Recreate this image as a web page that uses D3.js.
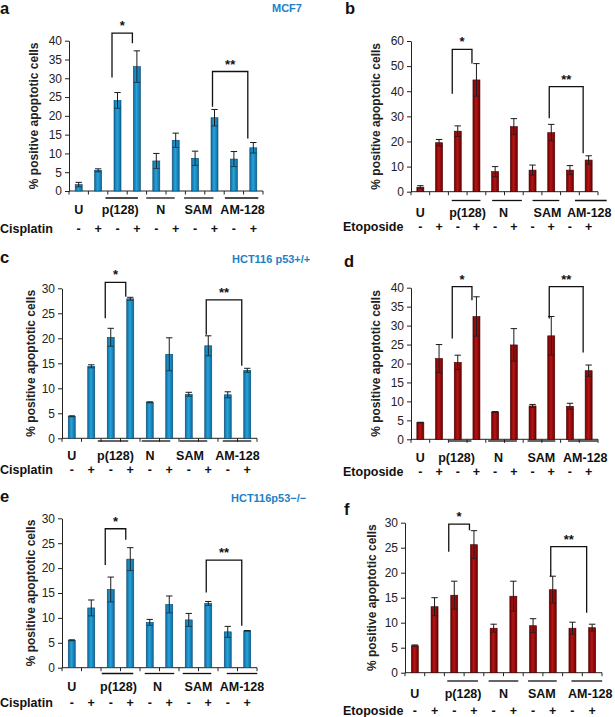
<!DOCTYPE html>
<html><head><meta charset="utf-8">
<script src="https://cdn.jsdelivr.net/npm/d3@7"></script>
<style>body{margin:0;background:#fff}svg{display:block;font-family:"Liberation Sans",Arial,Helvetica,sans-serif}</style>
</head><body><svg id="chart" width="615" height="717"></svg>
<script>
// ---------- data ----------
const groups = ["U", "p(128)", "N", "SAM", "AM-128"];
const treatments = ["-", "+", "-", "+", "-", "+", "-", "+", "-", "+"];
const barGroup = [0, 0, 1, 1, 2, 2, 3, 3, 4, 4];

const valuesA = [1.7, 5.5, 24.1, 33.1, 8.0, 13.5, 8.7, 19.5, 8.5, 11.5];
const errorsA = [0.6, 0.4, 2.1, 4.2, 2.0, 1.9, 1.9, 2.2, 2.0, 1.4];
const valuesB = [1.8, 19.5, 24.1, 44.5, 8.0, 25.9, 8.6, 23.5, 8.6, 12.6];
const errorsB = [0.6, 1.3, 2.1, 6.5, 2.0, 3.2, 2.0, 3.3, 1.8, 1.7];
const valuesC = [4.4, 14.4, 20.2, 27.9, 7.2, 16.8, 8.8, 18.5, 8.7, 13.6];
const errorsC = [0.1, 0.3, 1.8, 0.3, 0.1, 3.3, 0.4, 2.0, 0.6, 0.4];
const valuesD = [4.4, 21.3, 20.3, 32.4, 7.2, 24.9, 8.8, 27.3, 8.7, 18.1];
const errorsD = [0.1, 3.7, 1.9, 5.2, 0.1, 4.3, 0.4, 5.1, 0.8, 1.5];
const valuesE = [5.5, 12.0, 15.7, 21.8, 9.1, 12.7, 9.6, 12.9, 7.2, 7.4];
const errorsE = [0.1, 1.6, 2.5, 2.3, 0.6, 1.7, 1.3, 0.4, 1.1, 0.05];
const valuesF = [5.4, 13.2, 15.5, 25.6, 8.9, 15.3, 9.4, 16.6, 8.9, 9.0];
const errorsF = [0.15, 1.8, 2.8, 2.8, 0.8, 3.0, 1.4, 2.7, 1.2, 0.7];

// significance brackets: bar indices, bracket top value, left/right end values
const bracketsA = [{from: 2, to: 3, top: 42, left: 30.2, right: 39.3, label: "*"},
                   {from: 7, to: 9, top: 31.8, left: 22.4, right: 14.0, label: "**"}];
const bracketsB = [{from: 2, to: 3, top: 56.7, left: 39, right: 51, label: "*"},
                   {from: 7, to: 9, top: 41.8, left: 29.2, right: 15.3, label: "**"}];
const bracketsC = [{from: 2, to: 3, top: 31.2, left: 24, right: 28.3, label: "*"},
                   {from: 7, to: 9, top: 27.7, left: 20.7, right: 14.5, label: "**"}];
const bracketsD = [{from: 2, to: 3, top: 40.3, left: 26.6, right: 36.7, label: "*"},
                   {from: 7, to: 9, top: 40.3, left: 31.9, right: 22.9, label: "**"}];
const bracketsE = [{from: 2, to: 3, top: 27.9, left: 20.6, right: 25.7, label: "*"},
                   {from: 7, to: 9, top: 21.6, left: 15.1, right: 8.4, label: "**"}];
const bracketsF = [{from: 2, to: 3, top: 29.7, left: 24.2, right: 28.5, label: "*"},
                   {from: 7, to: 9, top: 25.2, left: 19.2, right: 12.0, label: "**"}];

const yTicksA = [0, 5, 10, 15, 20, 25, 30, 35, 40];
const yTicksB = [0, 10, 20, 30, 40, 50, 60];
const yTicksC = [0, 5, 10, 15, 20, 25, 30];
const yTicksD = [0, 5, 10, 15, 20, 25, 30, 35, 40];
const yTicksE = [0, 5, 10, 15, 20, 25, 30];
const yTicksF = [0, 5, 10, 15, 20, 25, 30];

const yTitle = "% positive apoptotic cells";

// ---------- layout ----------
const BLUE = "blue", RED = "red";
const panels = [
  {letter: "a", lx: 0, ly: 14, title: "MCF7", tx: 272, ty: 12, drug: "Cisplatin", color: BLUE,
   values: valuesA, errors: errorsA, brackets: bracketsA, ticks: yTicksA,
   x0: 69, x1: 263, y0: 191, y1: 40.7, ylabX: 35, ulineY: 198, groupY: 214, drugY: 233, drugX: 0,
   lblShift: [0, -7, -5.3, -6.5, -1], uline: [null, [-12, 1], [-10, -1], [-11, -1], [-9, 5]]},
  {letter: "b", lx: 345, ly: 14, drug: "Etoposide", color: RED,
   values: valuesB, errors: errorsB, brackets: bracketsB, ticks: yTicksB,
   x0: 411, x1: 598, y0: 191.7, y1: 41, ylabX: 377, ulineY: 200.5, groupY: 217, drugY: 231, drugX: 343,
   lblShift: [0, 0.5, -1, 5.6, 10], uline: [null, [-6, 4], [-3, 8], [0, 8], [5, 18]]},
  {letter: "c", lx: 0, ly: 263, title: "HCT116 p53+/+", tx: 232, ty: 263, drug: "Cisplatin", color: BLUE,
   values: valuesC, errors: errorsC, brackets: bracketsC, ticks: yTicksC,
   x0: 62, x1: 257, y0: 438.3, y1: 288.3, ylabX: 32, ulineY: 441, groupY: 460, drugY: 474, drugX: 0,
   lblShift: [0, -5, -9.5, -8.5, 0], uline: [null, [-13, -2], [-8, 1], [-9, -1], [-5, 4]]},
  {letter: "d", lx: 344, ly: 267, drug: "Etoposide", color: RED,
   values: valuesD, errors: errorsD, brackets: bracketsD, ticks: yTicksD,
   x0: 411, x1: 598, y0: 439.3, y1: 287.7, ylabX: 377, ulineY: 441, groupY: 461.5, drugY: 476, drugX: 343,
   lblShift: [0, -10.5, -6, -0.5, 6], uline: [null, [-9, -5], [-7, 3], [-5, 4], [-2, 9]]},
  {letter: "e", lx: 0, ly: 501.5, title: "HCT116p53\u2212/\u2212", tx: 231, ty: 502, drug: "Cisplatin", color: BLUE,
   values: valuesE, errors: errorsE, brackets: bracketsE, ticks: yTicksE,
   x0: 62, x1: 257, y0: 667.7, y1: 518.3, ylabX: 32, ulineY: 673.5, groupY: 690.5, drugY: 707, drugX: 0,
   lblShift: [0, -2, -2, 0, 4.5], uline: [null, [-9, 3], [-5, 5], [-6, 3], [-1, 10]]},
  {letter: "f", lx: 344, ly: 515, drug: "Etoposide", color: RED,
   values: valuesF, errors: errorsF, brackets: bracketsF, ticks: yTicksF,
   x0: 405, x1: 602, y0: 672.7, y1: 522.7, ylabX: 373, ulineY: 681, groupY: 698, drugY: 715, drugX: 343,
   lblShift: [0, -1, 0, -1, 8], uline: [null, [-7, 4], [-5, 5], [-5, 4], [-1, 10]]}
];

const svg = d3.select("#chart");
const defs = svg.append("defs");
function grad(id, edge, mid) {
  const g = defs.append("linearGradient").attr("id", id).attr("x1", "0%").attr("x2", "100%");
  g.append("stop").attr("offset", "0%").attr("stop-color", edge);
  g.append("stop").attr("offset", "45%").attr("stop-color", mid);
  g.append("stop").attr("offset", "100%").attr("stop-color", edge);
}
grad("g-blue", "#0f6a9c", "#25a3dc");
grad("g-red", "#6e0000", "#b51616");
const fills = {blue: "url(#g-blue)", red: "url(#g-red)"};
const strokes = {blue: "#0a4a70", red: "#4a0000"};
const titleBlue = "#1b82c8";

panels.forEach(p => {
  const g = svg.append("g");
  const idx = d3.range(p.values.length);
  const x = d3.scaleBand().domain(idx).range([p.x0, p.x1]);
  const ymax = p.ticks[p.ticks.length - 1];
  const y = d3.scaleLinear().domain([0, ymax]).range([p.y0, p.y1]);
  const bw = x.bandwidth();
  const cx = i => x(i) + bw / 2;
  const barW = 7;

  // panel letter & title
  g.append("text").attr("x", p.lx).attr("y", p.ly).attr("font-size", 16.5)
    .attr("font-weight", "bold").attr("fill", "#111").text(p.letter);
  if (p.title) g.append("text").attr("x", p.tx).attr("y", p.ty).attr("font-size", 11)
    .attr("font-weight", "bold").attr("fill", titleBlue).text(p.title);

  // y axis
  const ya = g.append("g").attr("transform", `translate(${p.x0},0)`)
    .call(d3.axisLeft(y).tickValues(p.ticks).tickSize(4).tickPadding(3).tickSizeOuter(0));
  ya.select(".domain").attr("stroke", "#222");
  ya.selectAll(".tick line").attr("stroke", "#222");
  ya.selectAll("text").attr("font-size", 12).attr("font-family", "Liberation Sans, Arial, sans-serif").attr("fill", "#222");

  // x axis with ticks at band boundaries
  const xa = g.append("g").attr("transform", `translate(0,${p.y0})`);
  xa.append("line").attr("x1", p.x0).attr("x2", p.x1).attr("stroke", "#222");
  xa.selectAll("line.tk").data(d3.range(p.values.length + 1)).join("line").attr("class", "tk")
    .attr("x1", i => p.x0 + i * x.step()).attr("x2", i => p.x0 + i * x.step())
    .attr("y1", 0).attr("y2", 3.5).attr("stroke", "#222");

  // y title
  g.append("text").attr("transform", `translate(${p.ylabX},${(p.y0 + p.y1) / 2}) rotate(-90)`)
    .attr("text-anchor", "middle").attr("dominant-baseline", "middle")
    .attr("font-size", 12).attr("font-weight", "bold").attr("fill", "#222").text(yTitle);

  // bars
  g.selectAll("rect.bar").data(idx).join("rect").attr("class", "bar")
    .attr("x", i => cx(i) - barW / 2).attr("width", barW)
    .attr("y", i => y(p.values[i])).attr("height", i => p.y0 - y(p.values[i]))
    .attr("fill", fills[p.color]).attr("stroke", strokes[p.color]).attr("stroke-width", 0.6);

  // error bars
  const eb = g.selectAll("g.eb").data(idx).join("g").attr("class", "eb");
  eb.append("line").attr("x1", cx).attr("x2", cx)
    .attr("y1", i => y(p.values[i] + p.errors[i])).attr("y2", i => y(Math.max(0, p.values[i] - p.errors[i])))
    .attr("stroke", "#1a1a1a").attr("stroke-width", 1);
  eb.append("line").attr("x1", i => cx(i) - 3.2).attr("x2", i => cx(i) + 3.2)
    .attr("y1", i => y(p.values[i] + p.errors[i])).attr("y2", i => y(p.values[i] + p.errors[i]))
    .attr("stroke", "#1a1a1a").attr("stroke-width", 1);
  eb.append("line").attr("x1", i => cx(i) - 3.2).attr("x2", i => cx(i) + 3.2)
    .attr("y1", i => y(Math.max(0, p.values[i] - p.errors[i]))).attr("y2", i => y(Math.max(0, p.values[i] - p.errors[i])))
    .attr("stroke", "#1a1a1a").attr("stroke-width", 0.9).attr("opacity", 0.7);

  // brackets
  p.brackets.forEach(b => {
    const offL = b.label === "*" ? -5.5 : -2;
    const offR = b.label === "*" ? -4.5 : -5.5;
    const xl = cx(b.from) + offL, xr = cx(b.to) + offR;
    g.append("path")
      .attr("d", `M${xl},${y(b.left)}V${y(b.top)}H${xr}V${y(b.right)}`)
      .attr("fill", "none").attr("stroke", "#111").attr("stroke-width", 1.3);
    g.append("text").attr("x", (xl + xr) / 2).attr("y", y(b.top) - 3)
      .attr("text-anchor", "middle").attr("font-size", 13).attr("font-weight", "bold")
      .attr("fill", "#111").text(b.label);
  });

  // group underlines & labels
  groups.forEach((name, gi) => {
    const members = idx.filter(i => barGroup[i] === gi);
    const first = members[0], last = members[members.length - 1];
    const ul = p.uline[gi];
    const anchor = ul ? (cx(first) + cx(last)) / 2 : cx(first);
    if (ul) {
      g.append("line").attr("x1", cx(first) + ul[0]).attr("x2", cx(last) + ul[1])
        .attr("y1", p.ulineY).attr("y2", p.ulineY)
        .attr("stroke", "#111").attr("stroke-width", 1.3);
    }
    g.append("text").attr("x", anchor + p.lblShift[gi]).attr("y", p.groupY).attr("text-anchor", "middle")
      .attr("font-size", 12.5).attr("font-weight", "bold").attr("fill", "#111").text(name);
  });

  // drug row
  g.append("text").attr("x", p.drugX).attr("y", p.drugY).attr("font-size", 12.5)
    .attr("font-weight", "bold").attr("fill", "#111").text(p.drug);
  g.selectAll("text.tr").data(idx).join("text").attr("class", "tr")
    .attr("x", cx).attr("y", p.drugY).attr("text-anchor", "middle")
    .attr("font-size", 12.5).attr("font-weight", "bold").attr("fill", "#111")
    .text(i => treatments[i]);
});
</script></body></html>
